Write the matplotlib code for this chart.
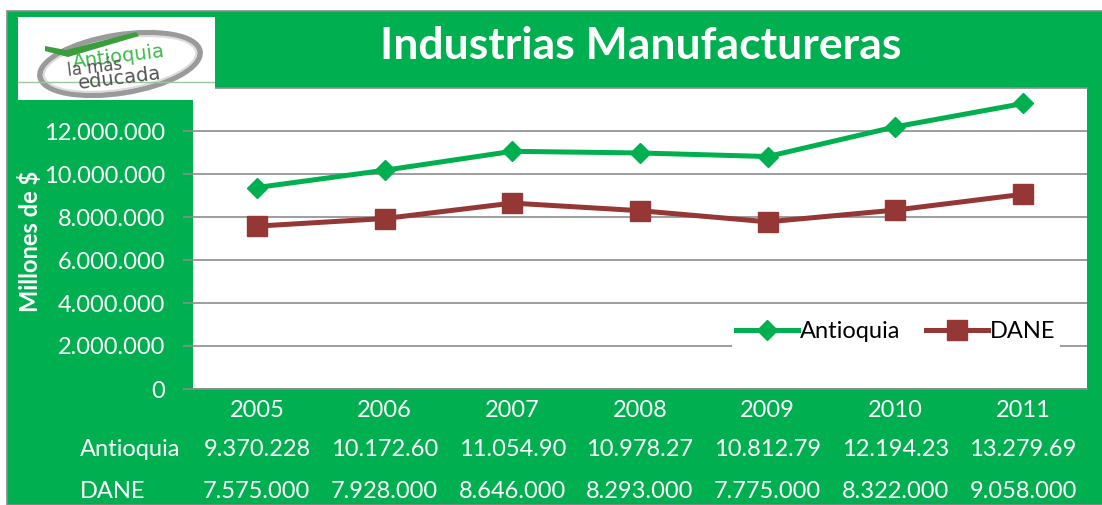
import matplotlib
matplotlib.use("Agg")
import matplotlib.pyplot as plt
from matplotlib.patches import Rectangle, Ellipse, Polygon
from matplotlib.transforms import blended_transform_factory

years = ["2005", "2006", "2007", "2008", "2009", "2010", "2011"]
antioquia = [9370228, 10172600, 11054900, 10978270, 10812790, 12194230, 13279690]
dane = [7575000, 7928000, 8646000, 8293000, 7775000, 8322000, 9058000]
series_names = ["Antioquia", "DANE"]
title = "Industrias Manufactureras"
ylabel = "Millones de $"

GREEN = "#00B050"
RED = "#953735"
GRID = "#8C8C8C"
W, H = 1102, 505
FS = 17

plt.rcParams['font.family'] = ['Lato', 'DejaVu Sans']

fig = plt.figure(figsize=(W / 100, H / 100), dpi=100)
fig.patch.set_facecolor("white")

def fx(px):
    return px / W

def fy(py):
    return 1 - py / H

# green background panel
bg = Rectangle((fx(7), 0), 1 - fx(7) + 0.01, fy(11), transform=fig.transFigure,
               facecolor=GREEN, edgecolor="#8a8a8a", linewidth=1.2, zorder=-10)
fig.patches.append(bg)

# main axes
ax = fig.add_axes([fx(193), 1 - 389 / H, (1087 - 193) / W, (389 - 88) / H])
ax.set_facecolor("white")
x = list(range(len(years)))
ax.plot(x, antioquia, color=GREEN, lw=3.6, marker="D", ms=10.5, label=series_names[0],
        solid_joinstyle="round", zorder=3)
ax.plot(x, dane, color=RED, lw=3.6, marker="s", ms=14, label=series_names[1],
        solid_joinstyle="round", zorder=3)
ax.set_xlim(-0.5, len(years) - 0.5)
ax.set_ylim(0, 14_000_000)
ax.set_yticks(range(0, 12_000_001, 2_000_000))
ax.set_yticklabels([f"{v:,}".replace(",", ".") for v in range(0, 12_000_001, 2_000_000)])
ax.yaxis.grid(True, color=GRID, lw=1.2)
ax.set_axisbelow(True)
ax.set_xticks(x)
ax.set_xticklabels(years)
for s in ["left", "right"]:
    ax.spines[s].set_visible(False)
for s in ["top", "bottom"]:
    ax.spines[s].set_color(GRID)
    ax.spines[s].set_linewidth(1.2)
ax.tick_params(axis="y", colors=GRID, labelcolor="white", labelsize=FS, length=7,
               width=1.2, pad=13)
ax.tick_params(axis="x", length=0, labelcolor="white", labelsize=FS, pad=8)

leg = ax.legend(loc="center", bbox_to_anchor=((896 - 193) / 894, (389 - 332) / 301), ncol=2,
                frameon=True, fontsize=FS, handlelength=2.6, handletextpad=0.1,
                columnspacing=1.1, borderpad=0.2, fancybox=False)
leg.get_frame().set_facecolor("white")
leg.get_frame().set_edgecolor("none")
leg.get_frame().set_alpha(1)

# data table
tr = blended_transform_factory(ax.transData, fig.transFigure)
def fmt(v):
    return f"{v:,}".replace(",", ".")[:9]
for row_y, name, vals in [(450, series_names[0], antioquia), (492, series_names[1], dane)]:
    fig.text(fx(80), fy(row_y), name, color="white", fontsize=FS, ha="left", va="center")
    for xi, v in zip(x, vals):
        ax.text(xi, fy(row_y), fmt(v), transform=tr, color="white", fontsize=FS,
                ha="center", va="center", clip_on=False)

# title and y label
fig.text(fx(641), fy(46), title, color="white", fontsize=32, fontweight="bold",
         ha="center", va="center")
fig.text(fx(30), fy(241), ylabel, color="white", fontsize=17, fontweight="bold",
         rotation=90, ha="center", va="center")

# logo
lg = fig.add_axes([fx(18), 1 - 100 / H, (215 - 18) / W, (100 - 17) / H])
lg.set_xlim(0, 197)
lg.set_ylim(83, 0)
lg.set_facecolor("white")
lg.axis("off")
lg.add_patch(Rectangle((0, 0), 197, 83, facecolor="white", edgecolor="none"))
lg.plot([0, 197], [65, 65], color="#9cc89c", lw=1.0)
lg.add_patch(Ellipse((102, 47), 162, 58, angle=-9, facecolor="white", edgecolor="#9a9a9a", lw=4))
lg.add_patch(Ellipse((102, 47), 154, 51, angle=-9, facecolor="none", edgecolor="#dcdcdc", lw=1.5))
lg.add_patch(Polygon([(27, 29), (48, 33), (118, 15), (121, 19), (50, 40), (27, 34)],
                     closed=True, facecolor="#3a9e3a", edgecolor="none"))
lg.text(101, 40, "Antioquia", color="#3dbb4a", fontsize=14, ha="center", va="center",
        rotation=7, family=["DejaVu Sans"])
lg.text(77, 51, "la más", color="#555555", fontsize=12, ha="center", va="center",
        rotation=7, family=["DejaVu Sans"])
lg.text(102, 61, "educada", color="#555555", fontsize=14, ha="center", va="center",
        rotation=7, family=["DejaVu Sans"])

fig.savefig("out.png", dpi=100, facecolor=fig.get_facecolor())
